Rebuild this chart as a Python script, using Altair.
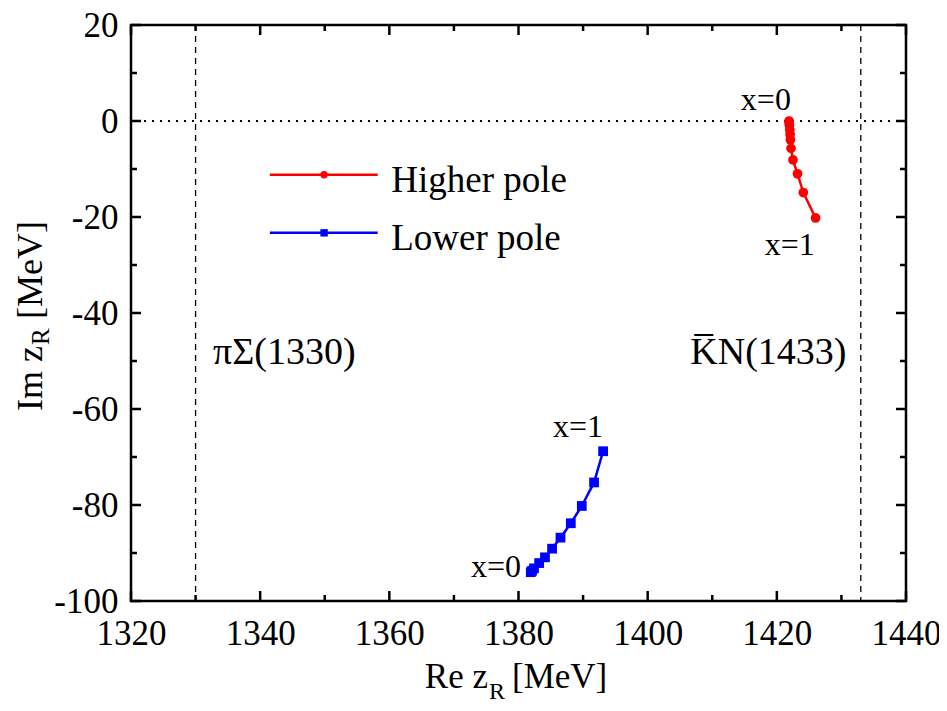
import altair as alt
import pandas as pd

# Pole trajectories, x = 0 ... 1
re_higher = [1421.9, 1421.9, 1421.95, 1422.0, 1422.05, 1422.1, 1422.2, 1422.5, 1423.2, 1424.1, 1426.0]
im_higher = [0.0, -0.3, -0.9, -1.8, -2.8, -3.9, -5.7, -8.1, -11.0, -14.9, -20.2]
re_lower = [1381.9, 1382.1, 1382.4, 1383.2, 1384.1, 1385.2, 1386.5, 1388.1, 1389.8, 1391.7, 1393.1]
im_lower = [-94.0, -93.7, -93.2, -92.1, -90.9, -89.1, -86.8, -83.8, -80.2, -75.3, -68.8]

series = ["Higher pole", "Lower pole"]
colors = ["#ff0000", "#0000ff"]
shapes = ["circle", "square"]

thresholds = [1330, 1433]
threshold_labels = ["πΣ(1330)", "K\u0305N(1433)"]

x_major = [1320, 1340, 1360, 1380, 1400, 1420, 1440]
x_minor = [1330, 1350, 1370, 1390, 1410, 1430]
y_major = [-100, -80, -60, -40, -20, 0, 20]
y_minor = [-90, -70, -50, -30, -10, 10]

# annotation texts (data units)
ann_text = ["x=0", "x=1", "x=1", "x=0"]
ann_re = [1418.3, 1422.0, 1389.2, 1376.5]
ann_im = [2.3, -28.0, -65.9, -95.0]
thr_re = [1332.7, 1406.6]
thr_im = [-50.7, -50.7]
leg_re = [1341.5, 1358.2]
leg_mid = 1349.9
leg_im = [-11.2, -23.3]
leg_text_re = 1360.3
leg_text_im = [-14.8, -26.8]

W, H = 775, 576
FONT = "Liberation Serif"

xs = alt.Scale(domain=[1320, 1440], nice=False, zero=False)
ys = alt.Scale(domain=[-100, 20], nice=False, zero=False)
xaxis = alt.Axis(values=x_major, labelExpr="toString(datum.value)", ticks=False, tickSize=0,
                 domain=False, grid=False, labelFont=FONT, labelFontSize=35, labelColor="black",
                 labelPadding=15, title=None, labelFlush=False, labelOverlap=False)
yaxis = alt.Axis(values=y_major, labelExpr="toString(datum.value)", ticks=False, tickSize=0,
                 domain=False, grid=False, labelFont=FONT, labelFontSize=35, labelColor="black",
                 labelPadding=13, title=None, labelFlush=False, labelOverlap=False)


def X(f):
    return alt.X(f, type="quantitative", scale=xs, axis=xaxis)


def Y(f):
    return alt.Y(f, type="quantitative", scale=ys, axis=yaxis)


color = alt.Color("series:N", scale=alt.Scale(domain=series, range=colors), legend=None)
shape = alt.Shape("series:N", scale=alt.Scale(domain=series, range=shapes), legend=None)

rows = []
for i, (r, m) in enumerate(zip(re_higher, im_higher)):
    rows.append({"re": r, "im": m, "series": series[0], "k": i})
for i, (r, m) in enumerate(zip(re_lower, im_lower)):
    rows.append({"re": r, "im": m, "series": series[1], "k": i})
df = pd.DataFrame(rows)

layers = []

# threshold dashed lines
layers.append(alt.Chart(pd.DataFrame({"v": thresholds})).mark_rule(
    color="black", strokeWidth=1.3, strokeDash=[6, 5]).encode(x=X("v")))
# zero dotted line
layers.append(alt.Chart(pd.DataFrame({"v": [0]})).mark_rule(
    color="black", strokeWidth=2, strokeDash=[2, 6]).encode(y=Y("v")))

# trajectories
layers.append(alt.Chart(df).mark_line(strokeWidth=2.5).encode(
    x=X("re"), y=Y("im"), color=color, detail="series:N", order="k:Q"))
layers.append(alt.Chart(df).mark_point(filled=True, opacity=1, size=95).encode(
    x=X("re"), y=Y("im"), color=color, shape=shape))

# x=0 / x=1 annotations
layers.append(alt.Chart(pd.DataFrame({"t": ann_text, "re": ann_re, "im": ann_im})).mark_text(
    font=FONT, fontSize=32, color="black", align="center", baseline="alphabetic").encode(
    x=X("re"), y=Y("im"), text="t:N"))

# threshold labels
layers.append(alt.Chart(pd.DataFrame({"t": threshold_labels, "re": thr_re, "im": thr_im})).mark_text(
    font=FONT, fontSize=38, color="black", align="left", baseline="alphabetic").encode(
    x=X("re"), y=Y("im"), text="t:N"))

# legend
leg_df = pd.DataFrame({"series": series, "a": [leg_re[0]] * 2, "b": [leg_re[1]] * 2,
                       "m": [leg_mid] * 2, "im": leg_im, "tx": [leg_text_re] * 2, "ti": leg_text_im})
layers.append(alt.Chart(leg_df).mark_rule(strokeWidth=2.5).encode(
    x=X("a"), x2="b", y=Y("im"), color=color))
layers.append(alt.Chart(leg_df).mark_point(filled=True, opacity=1, size=55).encode(
    x=X("m"), y=Y("im"), color=color, shape=shape))
layers.append(alt.Chart(leg_df).mark_text(
    font=FONT, fontSize=37, color="black", align="left", baseline="alphabetic").encode(
    x=X("tx"), y=Y("ti"), text="series:N"))

# inward ticks on all four sides
for vals, L in ((x_major, 10), (x_minor, 6)):
    d = pd.DataFrame({"v": vals})
    layers.append(alt.Chart(d).mark_rule(color="black", strokeWidth=2.5).encode(
        x=X("v"), y=alt.value(H), y2=alt.value(H - L)))
    layers.append(alt.Chart(d).mark_rule(color="black", strokeWidth=2.5).encode(
        x=X("v"), y=alt.value(0), y2=alt.value(L)))
for vals, L in ((y_major, 10), (y_minor, 6)):
    d = pd.DataFrame({"v": vals})
    layers.append(alt.Chart(d).mark_rule(color="black", strokeWidth=2.5).encode(
        y=Y("v"), x=alt.value(0), x2=alt.value(L)))
    layers.append(alt.Chart(d).mark_rule(color="black", strokeWidth=2.5).encode(
        y=Y("v"), x=alt.value(W), x2=alt.value(W - L)))

# axis titles with subscripts
one = pd.DataFrame({"t": [""]})


def txt(s, x, y, size, align, angle=0):
    return alt.Chart(one).mark_text(text=s, font=FONT, fontSize=size, color="black",
                                    align=align, baseline="alphabetic", angle=angle).encode(
        x=alt.value(x), y=alt.value(y))


layers.append(txt("Re z", 357, 663, 35, "right"))
layers.append(txt("R", 358, 674, 24, "left"))
layers.append(txt("[MeV]", 381, 663, 35, "left"))

layers.append(txt("Im z", -89, 321, 36, "right", 270))
layers.append(txt("R", -82, 320, 25, "left", 270))
layers.append(txt("[MeV]", -89, 294, 36, "left", 270))

chart = alt.layer(*layers).properties(
    width=W, height=H,
    autosize=alt.AutoSizeParams(type="none"),
    padding={"left": 123, "top": 17, "right": 33, "bottom": 102},
).configure_view(stroke="black", strokeWidth=2.5)

chart.save("out.html", embed_options={"renderer": "svg", "actions": False})
